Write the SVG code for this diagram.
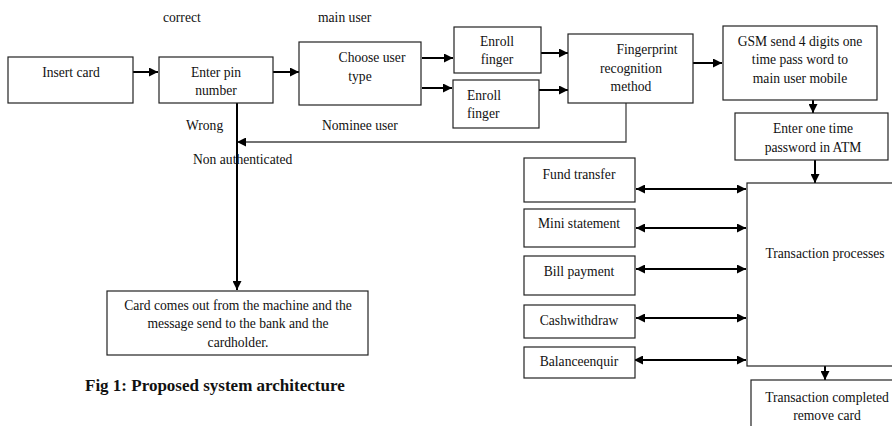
<svg xmlns="http://www.w3.org/2000/svg" width="892" height="426" viewBox="0 0 892 426">
<defs>
<marker id="ah" viewBox="0 0 10 10" refX="10" refY="5" markerWidth="9" markerHeight="9" markerUnits="userSpaceOnUse" orient="auto-start-reverse">
<path d="M0,0 L10,5 L0,10 z" fill="#000"/>
</marker>
<style>
.box{fill:#fff;stroke:#222;stroke-width:1.2}
.t{font-family:"Liberation Serif","Times New Roman",serif;font-size:13.6px;fill:#111}
.c{text-anchor:middle}
.ln{fill:none;stroke:#000;stroke-width:2}
.ln1{fill:none;stroke:#444;stroke-width:1.3}
.cap{font-family:"Liberation Serif","Times New Roman",serif;font-size:17px;font-weight:bold;fill:#111}
</style>
</defs>
<rect width="892" height="426" fill="#fff"/>
<g id="connectors">
<line class="ln" x1="133" y1="72" x2="158" y2="72" marker-end="url(#ah)"/>
<line class="ln" x1="273" y1="72" x2="299" y2="72" marker-end="url(#ah)"/>
<line class="ln" x1="422" y1="58" x2="453" y2="58" marker-end="url(#ah)"/>
<line class="ln" x1="422" y1="88" x2="452" y2="88" marker-end="url(#ah)"/>
<line class="ln" x1="541" y1="53" x2="568" y2="53" marker-end="url(#ah)"/>
<line class="ln" x1="539" y1="90" x2="568" y2="90" marker-end="url(#ah)"/>
<line class="ln" x1="692" y1="63" x2="722" y2="63" marker-end="url(#ah)"/>
<line class="ln" x1="813" y1="100" x2="813" y2="113" marker-end="url(#ah)"/>
<line class="ln" x1="815" y1="160" x2="815" y2="183" marker-end="url(#ah)"/>
<line class="ln" x1="825" y1="366" x2="825" y2="380" marker-end="url(#ah)"/>
<polyline class="ln1" points="626,103 626,142 237,142" marker-end="url(#ah)"/>
<line class="ln" x1="237" y1="103" x2="237" y2="290" marker-end="url(#ah)"/>
<line class="ln" x1="636" y1="189" x2="746" y2="189" marker-start="url(#ah)" marker-end="url(#ah)"/>
<line class="ln" x1="636" y1="228" x2="746" y2="228" marker-start="url(#ah)" marker-end="url(#ah)"/>
<line class="ln" x1="636" y1="269" x2="746" y2="269" marker-start="url(#ah)" marker-end="url(#ah)"/>
<line class="ln" x1="636" y1="318" x2="746" y2="318" marker-start="url(#ah)" marker-end="url(#ah)"/>
<line class="ln" x1="634" y1="360" x2="746" y2="360" marker-start="url(#ah)" marker-end="url(#ah)"/>
</g>
<g id="labels">
<text class="t" x="163" y="22">correct</text>
<text class="t" x="318" y="22">main user</text>
<text class="t" x="186" y="130">Wrong</text>
<text class="t" x="322" y="130">Nominee user</text>
<text class="t" x="193" y="164">Non authenticated</text>
<text class="cap" x="85" y="391">Fig 1: Proposed system architecture</text>
</g>
<g id="insert-card"><rect class="box" x="8" y="57" width="125" height="46"/><text class="t c" x="71" y="77">Insert card</text></g>
<g id="enter-pin"><rect class="box" x="159" y="57" width="114" height="46"/><text class="t c" x="216" y="77">Enter pin</text><text class="t c" x="216" y="95">number</text></g>
<g id="choose-user"><rect class="box" x="299" y="42" width="122" height="63"/><text class="t c" x="372" y="62">Choose user</text><text class="t c" x="360" y="81">type</text></g>
<g id="enroll-1"><rect class="box" x="454" y="27" width="87" height="46"/><text class="t c" x="497" y="46">Enroll</text><text class="t c" x="497" y="64">finger</text></g>
<g id="enroll-2"><rect class="box" x="453" y="80" width="86" height="48"/><text class="t" x="467" y="100">Enroll</text><text class="t" x="467" y="118">finger</text></g>
<g id="fingerprint"><rect class="box" x="568" y="34" width="125" height="69"/><text class="t c" x="647" y="54">Fingerprint</text><text class="t c" x="631" y="73">recognition</text><text class="t c" x="631" y="91">method</text></g>
<g id="gsm"><rect class="box" x="723" y="26" width="154" height="74"/><text class="t c" x="800" y="46">GSM send 4 digits one</text><text class="t c" x="800" y="64">time pass word to</text><text class="t c" x="800" y="83">main user mobile</text></g>
<g id="enter-otp"><rect class="box" x="735" y="113" width="153" height="47"/><text class="t c" x="813" y="133">Enter one time</text><text class="t c" x="813" y="152">password in ATM</text></g>
<g id="card-out"><rect class="box" x="107" y="291" width="261" height="64"/><text class="t c" x="238" y="310">Card comes out from the machine and the</text><text class="t c" x="238" y="328">message send to the bank and the</text><text class="t c" x="238" y="347">cardholder.</text></g>
<g id="fund-transfer"><rect class="box" x="524" y="158" width="111" height="44"/><text class="t c" x="579" y="179">Fund transfer</text></g>
<g id="mini-statement"><rect class="box" x="524" y="209" width="111" height="38"/><text class="t c" x="579" y="228">Mini statement</text></g>
<g id="bill-payment"><rect class="box" x="524" y="256" width="111" height="39"/><text class="t c" x="579" y="276">Bill payment</text></g>
<g id="cashwithdraw"><rect class="box" x="524" y="305" width="111" height="33"/><text class="t c" x="579" y="325">Cashwithdraw</text></g>
<g id="balance"><rect class="box" x="524" y="347" width="111" height="31"/><text class="t c" x="579" y="366">Balanceenquir</text></g>
<g id="transaction"><rect class="box" x="747" y="183" width="150" height="183"/><text class="t c" x="825" y="258">Transaction processes</text></g>
<g id="completed"><rect class="box" x="751" y="380" width="150" height="60"/><text class="t c" x="827" y="402">Transaction completed</text><text class="t c" x="827" y="420">remove card</text></g>
</svg>
